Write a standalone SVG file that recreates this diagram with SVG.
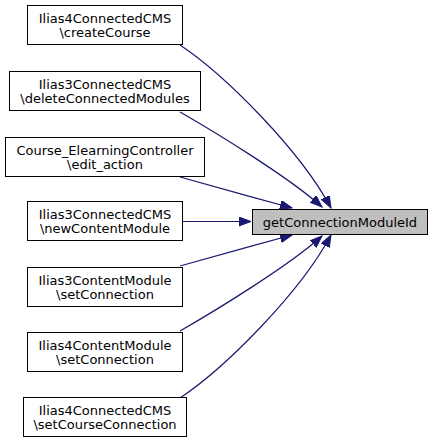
<svg xmlns="http://www.w3.org/2000/svg" width="433" height="444" viewBox="0 0 433 444">
<defs>
<style>
.node rect{fill:#ffffff;stroke:#000000;stroke-width:1}
.node.target rect{fill:#bfbfbf}
.node text{font-family:"DejaVu Sans",sans-serif;font-size:13px;fill:#000000;text-anchor:middle}
.edges path{fill:none;stroke:#191970;stroke-width:1.2;marker-end:url(#arrow)}
</style>
<marker id="arrow" markerUnits="userSpaceOnUse" markerWidth="13" markerHeight="10" refX="12" refY="4.5" orient="auto">
<path d="M0,0 L12,4.5 L0,9 z" fill="#191970" stroke="#191970" stroke-width="1"/>
</marker>
</defs>
<rect width="433" height="444" fill="#ffffff"/>
<g class="edges">
<path d="M180,45 C225,75 300,150 331,208"/>
<path d="M180,112 C215,132 290,178 322,207"/>
<path d="M180,177 C215,187 255,198 292,208"/>
<path d="M182,221.5 L251,221.5"/>
<path d="M180,266 C215,256 255,245 292,235"/>
<path d="M180,331 C215,311 290,265 322,236"/>
<path d="M180,398 C225,368 300,293 331,235"/>
</g>
<g id="target" class="node target">
<rect x="252.5" y="209.5" width="175" height="25"/>
<text x="340" y="226.5">getConnectionModuleId</text>
</g>
<g id="n1" class="node">
<rect x="27.5" y="5.5" width="155" height="39"/>
<text x="105" y="23">Ilias4ConnectedCMS</text>
<text x="105" y="37">\createCourse</text>
</g>
<g id="n2" class="node">
<rect x="9.5" y="71.5" width="191" height="39"/>
<text x="105" y="89">Ilias3ConnectedCMS</text>
<text x="105" y="103">\deleteConnectedModules</text>
</g>
<g id="n3" class="node">
<rect x="5.5" y="137.5" width="199" height="39"/>
<text x="105" y="155">Course_ElearningController</text>
<text x="105" y="169">\edit_action</text>
</g>
<g id="n4" class="node">
<rect x="27.5" y="201.5" width="155" height="39"/>
<text x="105" y="219">Ilias3ConnectedCMS</text>
<text x="105" y="233">\newContentModule</text>
</g>
<g id="n5" class="node">
<rect x="27.5" y="267.5" width="155" height="39"/>
<text x="105" y="285">Ilias3ContentModule</text>
<text x="105" y="299">\setConnection</text>
</g>
<g id="n6" class="node">
<rect x="27.5" y="332.5" width="155" height="39"/>
<text x="105" y="350">Ilias4ContentModule</text>
<text x="105" y="364">\setConnection</text>
</g>
<g id="n7" class="node">
<rect x="23.5" y="397.5" width="163" height="39"/>
<text x="105" y="415">Ilias4ConnectedCMS</text>
<text x="105" y="429">\setCourseConnection</text>
</g>
</svg>
